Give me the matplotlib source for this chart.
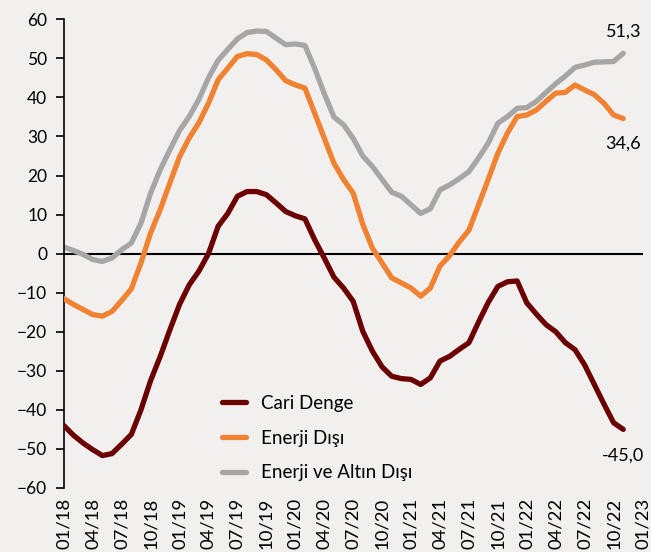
import matplotlib.pyplot as plt

# monthly values, 01/18 .. 11/22
cari_denge = [-44, -46.5, -48.5, -50.2, -51.7, -51.2, -48.8, -46.3, -40, -32.5, -26.3, -19.5,
              -13, -8, -4.5, 0, 7, 10.3, 14.7, 15.9, 15.9, 15.1, 13, 10.8,
              9.7, 8.9, 3.6, -1.1, -6, -8.8, -12.2, -19.9, -25, -29, -31.4, -32,
              -32.2, -33.5, -31.8, -27.5, -26.3, -24.5, -22.8, -17.5, -12.5, -8.4, -7.2, -7.0,
              -12.6, -15.5, -18.2, -20, -22.8, -24.6, -28.5, -33.5, -38.5, -43.3, -45.0]
enerji_disi = [-11.5, -13, -14.3, -15.6, -16, -14.8, -12, -9, -2.4, 5.3, 11.3, 18.1,
               24.8, 29.6, 33.5, 38.5, 44.5, 47.5, 50.5, 51.2, 51, 49.6, 47.1, 44.3,
               43.2, 42.4, 36, 29.6, 23.2, 19, 15.5, 7.5, 1.4, -2.4, -6.2, -7.5,
               -8.8, -10.9, -8.8, -3.2, -0.5, 3, 6, 12.5, 19, 25.7, 30.9, 35.1,
               35.5, 36.8, 39, 41.1, 41.3, 43.2, 41.9, 40.7, 38.5, 35.5, 34.6]
enerji_altin_disi = [1.7, 0.8, -0.2, -1.5, -2.0, -1.1, 1.0, 2.7, 7.8, 15.5, 21.5, 26.6,
                     31.5, 35.1, 39.5, 45, 49.5, 52.3, 55, 56.6, 57, 56.9, 55.2, 53.5,
                     53.7, 53.3, 47.5, 41, 35, 33, 29.5, 25, 22.3, 19, 15.7, 14.7,
                     12.5, 10.3, 11.5, 16.3, 17.6, 19.2, 21, 24.5, 28.3, 33.4, 35.1, 37.2,
                     37.4, 39, 41.3, 43.5, 45.5, 47.7, 48.3, 49, 49.1, 49.2, 51.3]
tick_labels = ['01/18', '04/18', '07/18', '10/18', '01/19', '04/19', '07/19', '10/19',
               '01/20', '04/20', '07/20', '10/20', '01/21', '04/21', '07/21', '10/21',
               '01/22', '04/22', '07/22', '10/22', '01/23']

plt.rcParams['font.family'] = ['Lato', 'DejaVu Sans']
bg = '#f2f0ef'

fig = plt.figure(figsize=(6.51, 5.52), dpi=100, facecolor=bg)
ax = fig.add_axes([0.098, 0.116, 0.889, 0.849], facecolor=bg)

x = list(range(len(cari_denge)))
ax.axhline(0, color='black', lw=1.5, zorder=1)
style = dict(lw=3.8, solid_joinstyle='round', solid_capstyle='round')
ax.plot(x, cari_denge, color='#6b0000', label='Cari Denge', zorder=3, **style)
ax.plot(x, enerji_disi, color='#f08232', label='Enerji Dışı', zorder=3, **style)
ax.plot(x, enerji_altin_disi, color='#a6a6a6', label='Enerji ve Altın Dışı', zorder=2, **style)

ax.set_xlim(0, 60)
ax.set_ylim(-60, 60)
ax.set_yticks(range(-60, 61, 10))
ax.set_xticks(range(0, 61, 3))
ax.set_xticklabels(tick_labels, rotation=90)
ax.tick_params(axis='y', labelsize=12.5, length=6, width=1.2, direction='out', pad=6)
ax.tick_params(axis='x', labelsize=13.3, length=0, pad=7)
for s in ['top', 'right', 'bottom']:
    ax.spines[s].set_visible(False)
ax.spines['left'].set_linewidth(1.2)

ax.annotate('51,3', (x[-1], enerji_altin_disi[-1]), xytext=(0, 10), textcoords='offset points',
            ha='center', va='bottom', fontsize=13)
ax.annotate('34,6', (x[-1], enerji_disi[-1]), xytext=(0, -12), textcoords='offset points',
            ha='center', va='top', fontsize=13)
ax.annotate('-45,0', (x[-1], cari_denge[-1]), xytext=(0, -13), textcoords='offset points',
            ha='center', va='top', fontsize=13)

ax.legend(loc='lower left', bbox_to_anchor=(0.245, -0.022), frameon=False, fontsize=13.5,
          handlelength=1.25, labelspacing=0.95, handletextpad=0.8)

fig.savefig('out.png', dpi=100, facecolor=bg)
